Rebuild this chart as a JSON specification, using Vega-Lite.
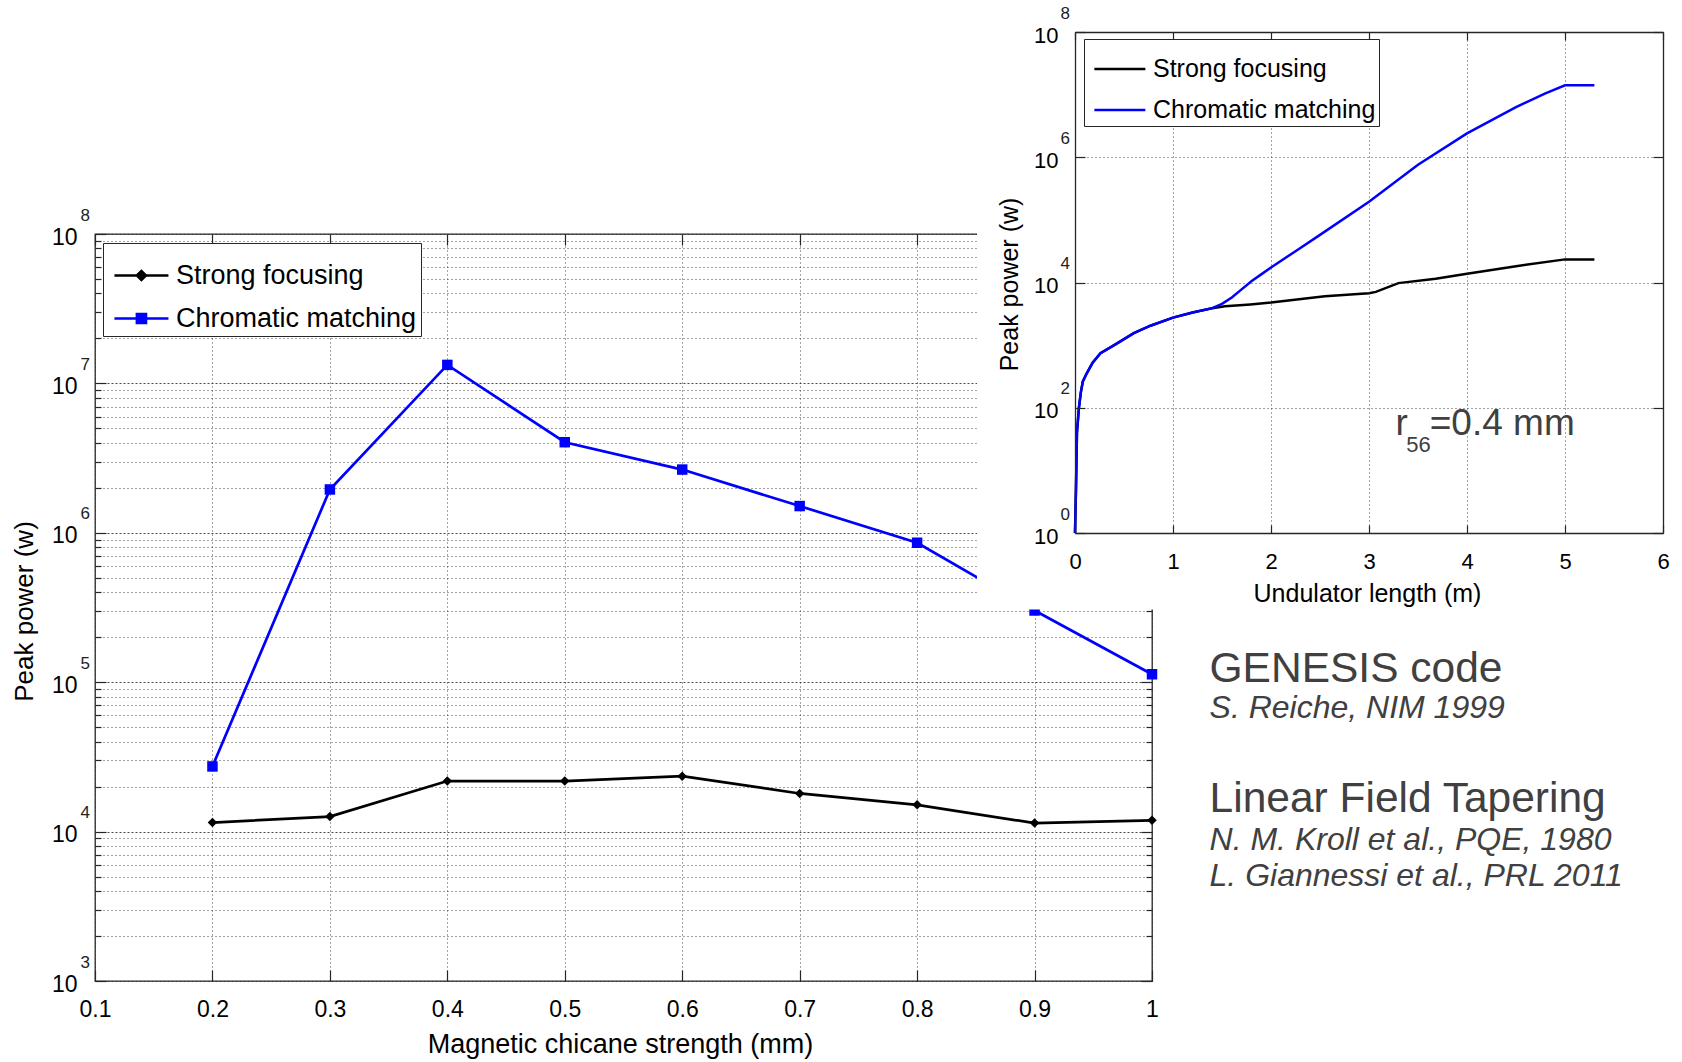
{
  "$schema": "https://vega.github.io/schema/vega-lite/v6.json",
  "width": 1057,
  "height": 747,
  "autosize": {"type": "none"},
  "padding": {"left": 95, "top": 234, "right": 530, "bottom": 81},
  "background": "white",
  "config": {
    "font": "Liberation Sans",
    "view": {"stroke": "#262626", "strokeWidth": 1.3},
    "axis": {
      "domain": false, "grid": false, "ticks": false, "labels": false,
      "labelOverlap": false, "labelFlush": false, "labelBound": false,
      "labelColor": "#000", "titleColor": "#000", "titleFontWeight": "normal",
      "tickColor": "#262626", "tickWidth": 1.2,
      "gridColor": "#333", "gridOpacity": 0.9, "gridWidth": 1,
      "domainColor": "#262626", "domainWidth": 1.3,
      "labelFont": "Liberation Sans", "titleFont": "Liberation Sans"
    },
    "legend": {"labelFont": "Liberation Sans", "labelColor": "#000", "labelLimit": 500}
  },
  "datasets": {
    "main": [
      {"x": 0.2, "series": "Strong focusing", "p": 11500},
      {"x": 0.3, "series": "Strong focusing", "p": 12600},
      {"x": 0.4, "series": "Strong focusing", "p": 21800},
      {"x": 0.5, "series": "Strong focusing", "p": 21800},
      {"x": 0.6, "series": "Strong focusing", "p": 23500},
      {"x": 0.7, "series": "Strong focusing", "p": 18000},
      {"x": 0.8, "series": "Strong focusing", "p": 15100},
      {"x": 0.9, "series": "Strong focusing", "p": 11400},
      {"x": 1.0, "series": "Strong focusing", "p": 11900},
      {"x": 0.2, "series": "Chromatic matching", "p": 27300},
      {"x": 0.3, "series": "Chromatic matching", "p": 1950000},
      {"x": 0.4, "series": "Chromatic matching", "p": 13300000},
      {"x": 0.5, "series": "Chromatic matching", "p": 4040000},
      {"x": 0.6, "series": "Chromatic matching", "p": 2650000},
      {"x": 0.7, "series": "Chromatic matching", "p": 1510000},
      {"x": 0.8, "series": "Chromatic matching", "p": 858000},
      {"x": 0.9, "series": "Chromatic matching", "p": 302000},
      {"x": 1.0, "series": "Chromatic matching", "p": 113000}
    ],
    "notes": [
      {"label": "GENESIS code", "kind": "head", "nx": 1.049, "ny": 100000},
      {"label": "S. Reiche, NIM 1999", "kind": "ref", "nx": 1.049, "ny": 57300},
      {"label": "Linear Field Tapering", "kind": "head", "nx": 1.049, "ny": 13460},
      {"label": "N. M. Kroll et al., PQE, 1980", "kind": "ref", "nx": 1.049, "ny": 7535},
      {"label": "L. Giannessi et al., PRL 2011", "kind": "ref", "nx": 1.049, "ny": 4325}
    ],
    "inset": [
      {"series": "Strong focusing", "x": 0, "p": 1},
      {"series": "Strong focusing", "x": 0.01, "p": 5},
      {"series": "Strong focusing", "x": 0.02, "p": 40},
      {"series": "Strong focusing", "x": 0.04, "p": 100},
      {"series": "Strong focusing", "x": 0.06, "p": 178},
      {"series": "Strong focusing", "x": 0.08, "p": 263},
      {"series": "Strong focusing", "x": 0.12, "p": 355},
      {"series": "Strong focusing", "x": 0.18, "p": 525},
      {"series": "Strong focusing", "x": 0.26, "p": 741},
      {"series": "Strong focusing", "x": 0.4, "p": 1000},
      {"series": "Strong focusing", "x": 0.6, "p": 1550},
      {"series": "Strong focusing", "x": 0.77, "p": 2040},
      {"series": "Strong focusing", "x": 1.0, "p": 2750},
      {"series": "Strong focusing", "x": 1.2, "p": 3310},
      {"series": "Strong focusing", "x": 1.4, "p": 3890},
      {"series": "Strong focusing", "x": 1.53, "p": 4170},
      {"series": "Strong focusing", "x": 1.79, "p": 4470},
      {"series": "Strong focusing", "x": 2.0, "p": 4790},
      {"series": "Strong focusing", "x": 2.55, "p": 6030},
      {"series": "Strong focusing", "x": 3.0, "p": 6760},
      {"series": "Strong focusing", "x": 3.07, "p": 7080},
      {"series": "Strong focusing", "x": 3.3, "p": 9770},
      {"series": "Strong focusing", "x": 3.68, "p": 11500},
      {"series": "Strong focusing", "x": 4.0, "p": 13800},
      {"series": "Strong focusing", "x": 4.5, "p": 18200},
      {"series": "Strong focusing", "x": 5.0, "p": 23400},
      {"series": "Strong focusing", "x": 5.3, "p": 23400},
      {"series": "Chromatic matching", "x": 0, "p": 1},
      {"series": "Chromatic matching", "x": 0.01, "p": 5},
      {"series": "Chromatic matching", "x": 0.02, "p": 40},
      {"series": "Chromatic matching", "x": 0.04, "p": 100},
      {"series": "Chromatic matching", "x": 0.06, "p": 178},
      {"series": "Chromatic matching", "x": 0.08, "p": 263},
      {"series": "Chromatic matching", "x": 0.12, "p": 355},
      {"series": "Chromatic matching", "x": 0.18, "p": 525},
      {"series": "Chromatic matching", "x": 0.26, "p": 741},
      {"series": "Chromatic matching", "x": 0.4, "p": 1000},
      {"series": "Chromatic matching", "x": 0.6, "p": 1550},
      {"series": "Chromatic matching", "x": 0.77, "p": 2040},
      {"series": "Chromatic matching", "x": 1.0, "p": 2750},
      {"series": "Chromatic matching", "x": 1.2, "p": 3310},
      {"series": "Chromatic matching", "x": 1.4, "p": 3890},
      {"series": "Chromatic matching", "x": 1.5, "p": 4571},
      {"series": "Chromatic matching", "x": 1.6, "p": 5754},
      {"series": "Chromatic matching", "x": 1.7, "p": 7762},
      {"series": "Chromatic matching", "x": 1.8, "p": 10470},
      {"series": "Chromatic matching", "x": 1.9, "p": 13490},
      {"series": "Chromatic matching", "x": 2.0, "p": 17380},
      {"series": "Chromatic matching", "x": 2.25, "p": 31620},
      {"series": "Chromatic matching", "x": 2.5, "p": 57540},
      {"series": "Chromatic matching", "x": 3.0, "p": 195000},
      {"series": "Chromatic matching", "x": 3.5, "p": 758600},
      {"series": "Chromatic matching", "x": 4.0, "p": 2399000},
      {"series": "Chromatic matching", "x": 4.5, "p": 6310000},
      {"series": "Chromatic matching", "x": 4.8, "p": 10470000},
      {"series": "Chromatic matching", "x": 5.0, "p": 14130000},
      {"series": "Chromatic matching", "x": 5.3, "p": 14130000}
    ],
    "insetText": [
      {"t": "r", "kind": "big", "x": 3.27, "y": 36.7},
      {"t": "=0.4 mm", "kind": "big", "x": 3.62, "y": 36.7},
      {"t": "56", "kind": "sub", "x": 3.38, "y": 19.9}
    ],
    "insetBack": [
      {"x0": -1.0, "x1": 6.4, "y0": 0.06, "y1": 400000000}
    ]
  },
  "layer": [
    {
      "data": {"name": "main"},
      "resolve": {"axis": {"x": "independent", "y": "independent"}},
      "layer": [
        {
          "mark": {"type": "line", "strokeWidth": 2.7},
          "encoding": {
            "x": {"field": "x", "type": "quantitative",
              "scale": {"domain": [0.1, 1], "nice": false, "zero": false},
              "axis": {"orient": "bottom", "values": [0.1, 0.2, 0.3, 0.4, 0.5, 0.6, 0.7, 0.8, 0.9, 1.0], "format": "~g",
                "labels": true, "labelFontSize": 23, "labelPadding": 28,
                "ticks": true, "tickSize": -11,
                "grid": true, "gridDash": [1, 3],
                "title": "Magnetic chicane strength (mm)", "titleFontSize": 27,
                "titleX": 525, "titleY": 63, "titleBaseline": "middle", "titleAlign": "center"}},
            "y": {"field": "p", "type": "quantitative",
              "scale": {"type": "log", "domain": [1000, 100000000], "nice": false},
              "axis": {"orient": "left",
                "values": [2000,3000,4000,5000,6000,7000,8000,9000,20000,30000,40000,50000,60000,70000,80000,90000,200000,300000,400000,500000,600000,700000,800000,900000,2000000,3000000,4000000,5000000,6000000,7000000,8000000,9000000,20000000,30000000,40000000,50000000,60000000,70000000,80000000,90000000],
                "grid": true, "gridDash": [1, 3], "ticks": true, "tickSize": -6, "labels": false, "title": null}},
            "color": {"field": "series", "type": "nominal",
              "scale": {"domain": ["Strong focusing", "Chromatic matching"], "range": ["#000000", "#0000ff"]},
              "legend": {"orient": "none", "legendX": 8, "legendY": 9, "title": null,
                "labelFontSize": 27, "symbolSize": 2916, "symbolStrokeWidth": 2.5, "labelOffset": 12,
                "padding": 4, "rowPadding": 1, "strokeColor": "#262626", "fillColor": "#ffffff", "cornerRadius": 0,
                "encode": {"symbols": {"update": {
                  "shape": {"signal": "datum.value === 'Strong focusing' ? 'M-0.78,0H1.22M0.05,0L0.22,-0.17L0.39,0L0.22,0.17Z' : 'M-0.78,0H1.22M0.05,-0.17H0.39V0.17H0.05Z'"},
                  "fill": {"signal": "datum.value === 'Strong focusing' ? '#000000' : '#0000ff'"},
                  "stroke": {"signal": "datum.value === 'Strong focusing' ? '#000000' : '#0000ff'"},
                  "opacity": {"value": 1}, "fillOpacity": {"value": 1}, "strokeWidth": {"value": 2.5}}}}}}
          }
        },
        {
          "transform": [{"filter": "datum.series === 'Strong focusing'"}],
          "mark": {"type": "point", "shape": "diamond", "filled": true, "size": 90, "color": "#000000", "opacity": 1},
          "encoding": {
            "x": {"field": "x", "type": "quantitative",
              "scale": {"domain": [0.1, 1], "nice": false, "zero": false},
              "axis": {"orient": "top", "values": [0.1, 0.2, 0.3, 0.4, 0.5, 0.6, 0.7, 0.8, 0.9, 1.0],
                "ticks": true, "tickSize": -11, "labels": false, "title": null}},
            "y": {"field": "p", "type": "quantitative",
              "scale": {"type": "log", "domain": [1000, 100000000], "nice": false},
              "axis": {"orient": "left", "values": [1000, 10000, 100000, 1000000, 10000000, 100000000],
                "labels": true, "labelExpr": "'10'", "labelFontSize": 23, "labelPadding": 18, "labelOffset": 3,
                "grid": true, "gridDash": [2, 2],
                "title": "Peak power (w)", "titleFontSize": 26, "titleX": -71, "titleY": 377,
                "titleAngle": 270, "titleBaseline": "middle", "titleAlign": "center"}}
          }
        },
        {
          "transform": [{"filter": "datum.series === 'Chromatic matching'"}],
          "mark": {"type": "point", "shape": "square", "filled": true, "size": 110, "color": "#0000ff", "opacity": 1},
          "encoding": {
            "x": {"field": "x", "type": "quantitative",
              "scale": {"domain": [0.1, 1], "nice": false, "zero": false}, "axis": null},
            "y": {"field": "p", "type": "quantitative",
              "scale": {"type": "log", "domain": [1000, 100000000], "nice": false},
              "axis": {"orient": "left", "values": [1000, 10000, 100000, 1000000, 10000000, 100000000],
                "labels": true, "labelExpr": "'' + round(log(datum.value) / LN10)", "labelAlign": "left",
                "labelFontSize": 17, "labelColor": "#222", "labelPadding": 26, "labelOffset": -19,
                "ticks": true, "tickSize": -11, "title": null}}
          }
        },
        {
          "data": {"name": "notes"},
          "transform": [{"filter": "datum.kind === 'head'"}],
          "mark": {"type": "text", "align": "left", "baseline": "alphabetic", "fontSize": 42.5, "color": "#404040", "font": "Liberation Sans"},
          "encoding": {
            "x": {"field": "nx", "type": "quantitative",
              "scale": {"domain": [0.1, 1], "nice": false, "zero": false}, "axis": null},
            "y": {"field": "ny", "type": "quantitative",
              "scale": {"type": "log", "domain": [1000, 100000000], "nice": false},
              "axis": {"orient": "right", "values": [1000, 10000, 100000, 1000000, 10000000, 100000000],
                "ticks": true, "tickSize": -11, "labels": false, "title": null}},
            "text": {"field": "label", "type": "nominal"}
          }
        },
        {
          "data": {"name": "notes"},
          "transform": [{"filter": "datum.kind === 'ref'"}],
          "mark": {"type": "text", "align": "left", "baseline": "alphabetic", "fontSize": 32, "fontStyle": "italic", "color": "#404040", "font": "Liberation Sans"},
          "encoding": {
            "x": {"field": "nx", "type": "quantitative",
              "scale": {"domain": [0.1, 1], "nice": false, "zero": false}, "axis": null},
            "y": {"field": "ny", "type": "quantitative",
              "scale": {"type": "log", "domain": [1000, 100000000], "nice": false},
              "axis": {"orient": "right",
                "values": [2000,3000,4000,5000,6000,7000,8000,9000,20000,30000,40000,50000,60000,70000,80000,90000,200000,300000,400000,500000,600000,700000,800000,900000,2000000,3000000,4000000,5000000,6000000,7000000,8000000,9000000,20000000,30000000,40000000,50000000,60000000,70000000,80000000,90000000],
                "ticks": true, "tickSize": -6, "labels": false, "title": null}},
            "text": {"field": "label", "type": "nominal"}
          }
        }
      ]
    },
    {
      "resolve": {"axis": {"x": "independent", "y": "independent"}},
      "layer": [
        {
          "data": {"name": "insetBack"},
          "mark": {"type": "rect", "fill": "#ffffff", "strokeWidth": 0},
          "encoding": {
            "x": {"field": "x0", "type": "quantitative",
              "scale": {"domain": [0, 6], "range": [980, 1568], "nice": false, "zero": false},
              "axis": {"orient": "bottom", "offset": -448, "zindex": 1, "values": [0, 1, 2, 3, 4, 5, 6], "format": "d",
                "labels": true, "labelFontSize": 22, "labelPadding": 26,
                "ticks": true, "tickSize": -8, "domain": true, "grid": false,
                "title": "Undulator length (m)", "titleFontSize": 25,
                "titleX": 1272, "titleY": 60, "titleBaseline": "middle", "titleAlign": "center"}},
            "x2": {"field": "x1"},
            "y": {"field": "y0", "type": "quantitative",
              "scale": {"type": "log", "domain": [1, 100000000], "range": [299, -202], "nice": false},
              "axis": {"orient": "left", "offset": -980, "zindex": 1, "values": [1, 100, 10000, 1000000, 100000000],
                "labels": true, "labelExpr": "'10'", "labelFontSize": 22, "labelPadding": 17, "labelOffset": 3,
                "domain": true, "grid": true, "gridDash": [1, 3],
                "title": "Peak power (w)", "titleFontSize": 25, "titleX": -66, "titleY": 50,
                "titleAngle": 270, "titleBaseline": "middle", "titleAlign": "center"}},
            "y2": {"field": "y1"}
          }
        },
        {
          "data": {"name": "inset"},
          "mark": {"type": "line", "strokeWidth": 2.5},
          "encoding": {
            "x": {"field": "x", "type": "quantitative",
              "scale": {"domain": [0, 6], "range": [980, 1568], "nice": false, "zero": false},
              "axis": {"orient": "top", "offset": 202, "zindex": 1, "values": [0, 1, 2, 3, 4, 5, 6],
                "ticks": true, "tickSize": -8, "domain": true, "labels": false, "title": null,
                "grid": true, "gridDash": [1, 3]}},
            "y": {"field": "p", "type": "quantitative",
              "scale": {"type": "log", "domain": [1, 100000000], "range": [299, -202], "nice": false},
              "axis": {"orient": "left", "offset": -980, "zindex": 1, "values": [1, 100, 10000, 1000000, 100000000],
                "labels": true, "labelExpr": "'' + round(log(datum.value) / LN10)", "labelAlign": "left",
                "labelFontSize": 17, "labelColor": "#222", "labelPadding": 25, "labelOffset": -19,
                "ticks": true, "tickSize": -10, "title": null}},
            "color": {"field": "series", "type": "nominal",
              "scale": {"domain": ["Strong focusing", "Chromatic matching"], "range": ["#000000", "#0000ff"]},
              "legend": {"orient": "none", "legendX": 989, "legendY": -195, "title": null, "zindex": 2,
                "labelFontSize": 25, "symbolType": "M-0.77,0H1.23", "symbolSize": 2601, "symbolStrokeWidth": 2.5,
                "labelOffset": 12, "padding": 3, "rowPadding": 1,
                "strokeColor": "#262626", "fillColor": "#ffffff", "cornerRadius": 0}}
          }
        },
        {
          "data": {"name": "insetText"},
          "transform": [{"filter": "datum.kind === 'big'"}],
          "mark": {"type": "text", "align": "left", "baseline": "alphabetic", "fontSize": 37, "color": "#404040", "font": "Liberation Sans"},
          "encoding": {
            "x": {"field": "x", "type": "quantitative",
              "scale": {"domain": [0, 6], "range": [980, 1568], "nice": false, "zero": false}, "axis": null},
            "y": {"field": "y", "type": "quantitative",
              "scale": {"type": "log", "domain": [1, 100000000], "range": [299, -202], "nice": false},
              "axis": {"orient": "right", "offset": 511, "zindex": 1, "values": [1, 100, 10000, 1000000, 100000000],
                "ticks": true, "tickSize": -10, "domain": true, "labels": false, "title": null}},
            "text": {"field": "t", "type": "nominal"}
          }
        },
        {
          "data": {"name": "insetText"},
          "transform": [{"filter": "datum.kind === 'sub'"}],
          "mark": {"type": "text", "align": "left", "baseline": "alphabetic", "fontSize": 22, "color": "#404040", "font": "Liberation Sans"},
          "encoding": {
            "x": {"field": "x", "type": "quantitative",
              "scale": {"domain": [0, 6], "range": [980, 1568], "nice": false, "zero": false}, "axis": null},
            "y": {"field": "y", "type": "quantitative",
              "scale": {"type": "log", "domain": [1, 100000000], "range": [299, -202], "nice": false}, "axis": null},
            "text": {"field": "t", "type": "nominal"}
          }
        }
      ]
    }
  ],
  "resolve": {"scale": {"x": "independent", "y": "independent", "color": "independent"}}
}
